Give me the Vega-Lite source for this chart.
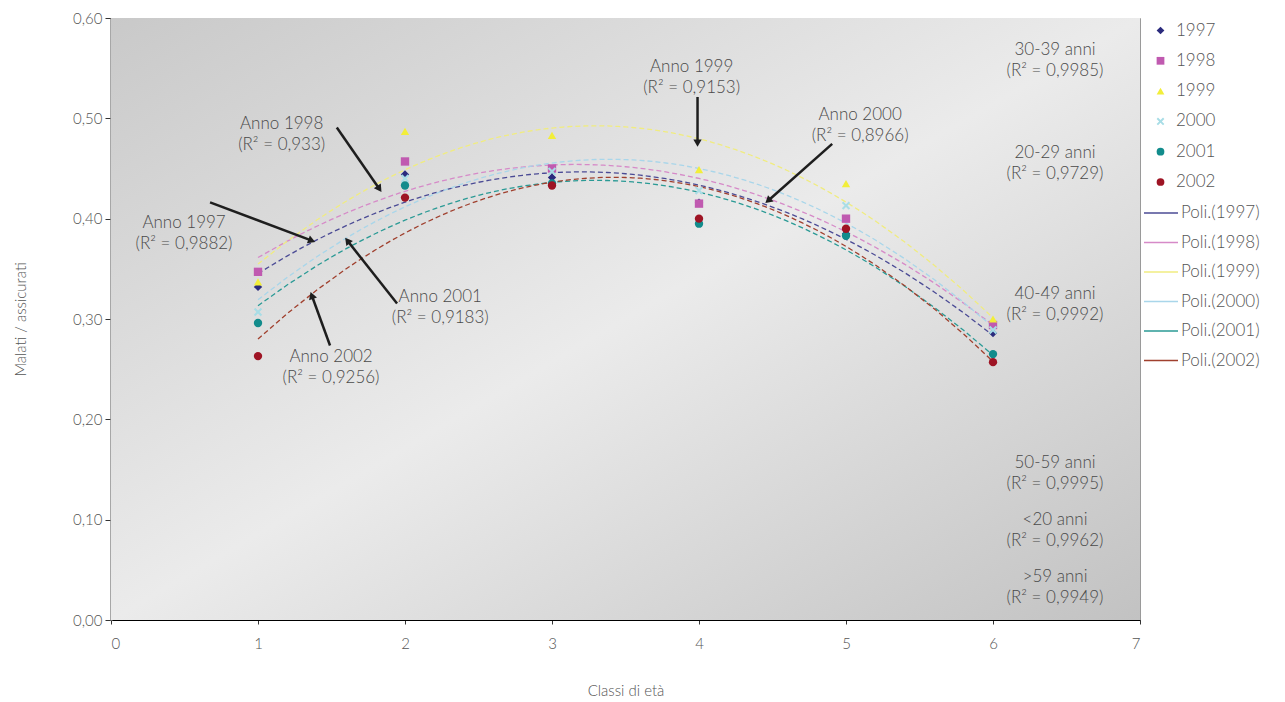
{
  "$schema": "https://vega.github.io/schema/vega-lite/v6.json",
  "width": 1029,
  "height": 602,
  "autosize": "none",
  "padding": {"left": 111, "top": 18, "right": 145, "bottom": 82},
  "background": "#ffffff",
  "config": {
    "font": "Lato",
    "view": {"stroke": "#9a9a9a", "strokeWidth": 1},
    "axis": {"labelFont": "Lato", "titleFont": "Lato", "labelColor": "#555555", "titleColor": "#555555", "labelFontSize": 15, "titleFontSize": 15, "titleFontWeight": 300, "labelFontWeight": 300, "grid": false},
    "legend": {"labelFont": "Lato", "labelFontSize": 17, "labelFontWeight": 300, "labelColor": "#555555", "padding": 0}
  },
  "datasets": {
    "obs": [
      {"anno": "1997", "x": 1, "v": 0.332}, {"anno": "1997", "x": 2, "v": 0.444}, {"anno": "1997", "x": 3, "v": 0.441}, {"anno": "1997", "x": 4, "v": 0.416}, {"anno": "1997", "x": 5, "v": 0.385}, {"anno": "1997", "x": 6, "v": 0.286},
      {"anno": "1998", "x": 1, "v": 0.347}, {"anno": "1998", "x": 2, "v": 0.457}, {"anno": "1998", "x": 3, "v": 0.450}, {"anno": "1998", "x": 4, "v": 0.415}, {"anno": "1998", "x": 5, "v": 0.400}, {"anno": "1998", "x": 6, "v": 0.294},
      {"anno": "1999", "x": 1, "v": 0.337}, {"anno": "1999", "x": 2, "v": 0.487}, {"anno": "1999", "x": 3, "v": 0.483}, {"anno": "1999", "x": 4, "v": 0.449}, {"anno": "1999", "x": 5, "v": 0.435}, {"anno": "1999", "x": 6, "v": 0.300},
      {"anno": "2000", "x": 1, "v": 0.307}, {"anno": "2000", "x": 2, "v": 0.440}, {"anno": "2000", "x": 3, "v": 0.447}, {"anno": "2000", "x": 4, "v": 0.428}, {"anno": "2000", "x": 5, "v": 0.413}, {"anno": "2000", "x": 6, "v": 0.289},
      {"anno": "2001", "x": 1, "v": 0.296}, {"anno": "2001", "x": 2, "v": 0.433}, {"anno": "2001", "x": 3, "v": 0.435}, {"anno": "2001", "x": 4, "v": 0.395}, {"anno": "2001", "x": 5, "v": 0.383}, {"anno": "2001", "x": 6, "v": 0.265},
      {"anno": "2002", "x": 1, "v": 0.263}, {"anno": "2002", "x": 2, "v": 0.421}, {"anno": "2002", "x": 3, "v": 0.433}, {"anno": "2002", "x": 4, "v": 0.400}, {"anno": "2002", "x": 5, "v": 0.390}, {"anno": "2002", "x": 6, "v": 0.257}
    ],
    "arrows": [
      {"x": 0.674, "y": 0.4162, "x2": 1.366, "y2": 0.3781},
      {"x": 1.536, "y": 0.4909, "x2": 1.826, "y2": 0.4296},
      {"x": 1.946, "y": 0.3154, "x2": 1.608, "y2": 0.3781},
      {"x": 1.490, "y": 0.2736, "x2": 1.366, "y2": 0.3234},
      {"x": 3.990, "y": 0.5213, "x2": 3.990, "y2": 0.4754},
      {"x": 4.906, "y": 0.4746, "x2": 4.470, "y2": 0.4179}
    ],
    "notes": [
      {"x": 0.497, "y": 0.3957, "label": ["Anno 1997", "(R² = 0,9882)"]},
      {"x": 1.161, "y": 0.4944, "label": ["Anno 1998", "(R² = 0,933)"]},
      {"x": 3.950, "y": 0.5512, "label": ["Anno 1999", "(R² = 0,9153)"]},
      {"x": 5.096, "y": 0.5033, "label": ["Anno 2000", "(R² = 0,8966)"]},
      {"x": 2.240, "y": 0.3219, "label": ["Anno 2001", "(R² = 0,9183)"]},
      {"x": 1.497, "y": 0.2621, "label": ["Anno 2002", "(R² = 0,9256)"]},
      {"x": 6.422, "y": 0.5681, "label": ["30-39 anni", "(R² = 0,9985)"]},
      {"x": 6.422, "y": 0.4655, "label": ["20-29 anni", "(R² = 0,9729)"]},
      {"x": 6.422, "y": 0.3249, "label": ["40-49 anni", "(R² = 0,9992)"]},
      {"x": 6.422, "y": 0.1565, "label": ["50-59 anni", "(R² = 0,9995)"]},
      {"x": 6.422, "y": 0.0997, "label": ["<20 anni", "(R² = 0,9962)"]},
      {"x": 6.422, "y": 0.0429, "label": [">59 anni", "(R² = 0,9949)"]}
    ]
  },
  "layer": [
    {
      "data": {"values": [{}]},
      "mark": {"type": "rect", "color": {"gradient": "linear", "x1": 0, "y1": 0, "x2": 1, "y2": 1, "stops": [{"offset": 0, "color": "#c9c9c9"}, {"offset": 0.5, "color": "#ebebeb"}, {"offset": 1, "color": "#c2c2c2"}]}},
      "encoding": {
        "x": {"datum": 0, "type": "quantitative", "scale": {"domain": [0, 7], "nice": false}, "axis": {"values": [0, 1, 2, 3, 4, 5, 6, 7], "format": "d", "title": "Classi di età", "domainColor": "#000000", "domainWidth": 1, "tickColor": "#333333", "tickSize": 4, "labelPadding": 12, "titlePadding": 32}},
        "x2": {"datum": 7},
        "y": {"datum": 0, "type": "quantitative", "scale": {"domain": [0, 0.6], "nice": false}, "axis": {"values": [0, 0.1, 0.2, 0.3, 0.4, 0.5, 0.6], "labelExpr": "replace(format(datum.value, '.2f'), '.', ',')", "title": "Malati / assicurati", "domainColor": "#8a8a8a", "domainWidth": 2.5, "tickColor": "#333333", "tickSize": 6, "labelPadding": 3, "titlePadding": 44}},
        "y2": {"datum": 0.6}
      }
    },
    {
      "data": {"name": "obs"},
      "transform": [
        {"regression": "v", "on": "x", "groupby": ["anno"], "method": "poly", "order": 2, "extent": [1, 6]},
        {"calculate": "'Poli.(' + datum.anno + ')'", "as": "poli"}
      ],
      "mark": {"type": "line", "strokeDash": [5, 3], "strokeWidth": 1.3},
      "encoding": {
        "x": {"field": "x", "type": "quantitative"},
        "y": {"field": "v", "type": "quantitative"},
        "stroke": {"field": "poli", "type": "nominal", "scale": {"domain": ["Poli.(1997)", "Poli.(1998)", "Poli.(1999)", "Poli.(2000)", "Poli.(2001)", "Poli.(2002)"], "range": ["#4b4b95", "#d68ac8", "#f0ec80", "#a9d6ea", "#2a9a95", "#a0402e"]}, "legend": {"title": null, "orient": "none", "legendX": 1032, "legendY": 177, "symbolType": "stroke", "symbolSize": 1156, "symbolStrokeWidth": 1.5, "symbolDash": [], "labelOffset": 2, "rowPadding": 3.5}}
      }
    },
    {
      "data": {"name": "obs"},
      "mark": {"type": "point", "filled": true, "size": 70, "opacity": 1},
      "encoding": {
        "x": {"field": "x", "type": "quantitative"},
        "y": {"field": "v", "type": "quantitative"},
        "color": {"field": "anno", "type": "nominal", "scale": {"domain": ["1997", "1998", "1999", "2000", "2001", "2002"], "range": ["#2b2b7d", "#c05ab0", "#f2ee3a", "#a8dde6", "#128c8c", "#9e1424"]}, "legend": {"title": null, "orient": "none", "legendX": 1041, "legendY": 4, "symbolSize": 60, "labelOffset": 7, "rowPadding": 12.3}},
        "shape": {"field": "anno", "type": "nominal", "scale": {"domain": ["1997", "1998", "1999", "2000", "2001", "2002"], "range": ["diamond", "square", "triangle-up", "M-1,-0.65L-0.65,-1L0,-0.35L0.65,-1L1,-0.65L0.35,0L1,0.65L0.65,1L0,0.35L-0.65,1L-1,0.65L-0.35,0Z", "circle", "circle"]}, "legend": {"title": null, "orient": "none", "legendX": 1041, "legendY": 4}}
      }
    },
    {
      "data": {"name": "arrows"},
      "mark": {"type": "rule", "color": "#1e1e1e", "strokeWidth": 2.5},
      "encoding": {
        "x": {"field": "x", "type": "quantitative"},
        "y": {"field": "y", "type": "quantitative"},
        "x2": {"field": "x2"},
        "y2": {"field": "y2"}
      }
    },
    {
      "data": {"name": "arrows"},
      "transform": [{"calculate": "atan2((datum.x2 - datum.x) * 147, (datum.y2 - datum.y) * 1003) * 180 / PI", "as": "ang"}],
      "mark": {"type": "point", "shape": "triangle-up", "filled": true, "color": "#1e1e1e", "size": 70, "opacity": 1},
      "encoding": {
        "x": {"field": "x2", "type": "quantitative"},
        "y": {"field": "y2", "type": "quantitative"},
        "angle": {"field": "ang", "type": "quantitative", "scale": null}
      }
    },
    {
      "data": {"name": "notes"},
      "mark": {"type": "text", "font": "Lato", "fontSize": 17, "fontWeight": 300, "color": "#4a4a4a", "align": "center", "baseline": "middle", "lineHeight": 21},
      "encoding": {
        "x": {"field": "x", "type": "quantitative"},
        "y": {"field": "y", "type": "quantitative"},
        "text": {"field": "label"}
      }
    }
  ]
}
